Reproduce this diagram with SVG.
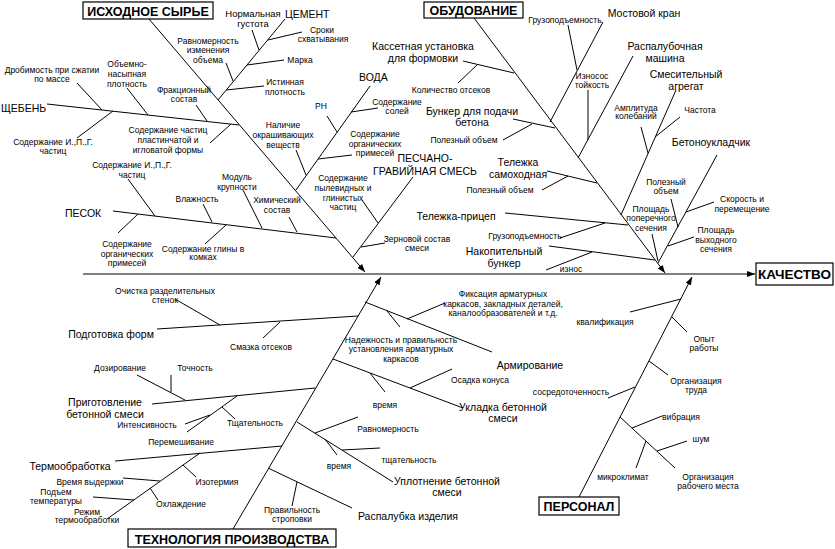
<svg xmlns="http://www.w3.org/2000/svg" width="835" height="549" viewBox="0 0 835 549">
<defs>
<style>
text{font-family:"Liberation Sans",Arial,sans-serif;fill:#000;text-anchor:middle}
.s{font-size:8.5px}
.m{font-size:10.5px}
.t{font-size:12.5px;font-weight:bold}
.st{text-anchor:start}
.box{fill:#fff;stroke:#000;stroke-width:1.2}
#connectors line{stroke:#000;stroke-width:1;fill:none}
</style>
<marker id="ah" markerWidth="8" markerHeight="6" refX="8" refY="3" orient="auto" markerUnits="userSpaceOnUse">
<path d="M0,0 L8,3 L0,6 Z" fill="#000"/>
</marker>
</defs>
<rect width="835" height="549" fill="#fff"/>
<g id="connectors">
<line x1="83" y1="274" x2="755" y2="274" marker-end="url(#ah)"/>
<line x1="149" y1="19" x2="365" y2="272" marker-end="url(#ah)"/>
<line x1="474" y1="18" x2="665" y2="273" marker-end="url(#ah)"/>
<line x1="233" y1="529" x2="381" y2="277" marker-end="url(#ah)"/>
<line x1="579" y1="497" x2="692" y2="277" marker-end="url(#ah)"/>
<line x1="285" y1="19" x2="218" y2="100"/>
<line x1="252" y1="30" x2="259" y2="50"/>
<line x1="302" y1="32" x2="268" y2="40"/>
<line x1="284" y1="60" x2="247" y2="65"/>
<line x1="264" y1="86" x2="226" y2="90"/>
<line x1="226" y1="63" x2="233" y2="81"/>
<line x1="47" y1="104" x2="239" y2="125"/>
<line x1="77" y1="83" x2="102" y2="110"/>
<line x1="127" y1="88" x2="148" y2="115"/>
<line x1="196" y1="105" x2="207" y2="121"/>
<line x1="210" y1="143" x2="231" y2="124"/>
<line x1="77" y1="138" x2="113" y2="111"/>
<line x1="370" y1="86" x2="296" y2="190"/>
<line x1="327" y1="116" x2="337" y2="132"/>
<line x1="378" y1="108" x2="351" y2="112"/>
<line x1="352" y1="155" x2="318" y2="159"/>
<line x1="296" y1="150" x2="306" y2="175"/>
<line x1="413" y1="177" x2="353" y2="257"/>
<line x1="362" y1="200" x2="378" y2="223"/>
<line x1="385" y1="243" x2="361" y2="247"/>
<line x1="113" y1="211" x2="336" y2="238"/>
<line x1="128" y1="179" x2="155" y2="216"/>
<line x1="203" y1="204" x2="212" y2="222"/>
<line x1="243" y1="190" x2="262" y2="228"/>
<line x1="289" y1="217" x2="297" y2="232"/>
<line x1="118" y1="233" x2="138" y2="214"/>
<line x1="205" y1="244" x2="226" y2="225"/>
<line x1="463" y1="61" x2="514" y2="73"/>
<line x1="458" y1="83" x2="477" y2="65"/>
<line x1="513" y1="119" x2="555" y2="128"/>
<line x1="503" y1="140" x2="532" y2="124"/>
<line x1="547" y1="171" x2="597" y2="183"/>
<line x1="542" y1="190" x2="568" y2="176"/>
<line x1="505" y1="213" x2="628" y2="225"/>
<line x1="560" y1="238" x2="605" y2="223"/>
<line x1="549" y1="246" x2="655" y2="260"/>
<line x1="546" y1="270" x2="592" y2="252"/>
<line x1="603" y1="22" x2="550" y2="122"/>
<line x1="568" y1="25" x2="577" y2="70"/>
<line x1="588" y1="90" x2="588" y2="140"/>
<line x1="633" y1="56" x2="578" y2="158"/>
<line x1="676" y1="90" x2="621" y2="215"/>
<line x1="641" y1="127" x2="648" y2="153"/>
<line x1="680" y1="117" x2="655" y2="137"/>
<line x1="717" y1="155" x2="658" y2="263"/>
<line x1="671" y1="199" x2="678" y2="227"/>
<line x1="714" y1="202" x2="686" y2="212"/>
<line x1="694" y1="237" x2="668" y2="246"/>
<line x1="652" y1="234" x2="658" y2="261"/>
<line x1="157" y1="329" x2="358" y2="316"/>
<line x1="175" y1="299" x2="220" y2="325"/>
<line x1="263" y1="338" x2="280" y2="322"/>
<line x1="152" y1="404" x2="315" y2="388"/>
<line x1="137" y1="375" x2="185" y2="400"/>
<line x1="171" y1="375" x2="171" y2="392"/>
<line x1="237" y1="396" x2="187" y2="432"/>
<line x1="185" y1="424" x2="210" y2="415"/>
<line x1="222" y1="407" x2="235" y2="419"/>
<line x1="115" y1="461" x2="282" y2="446"/>
<line x1="107" y1="519" x2="200" y2="453"/>
<line x1="183" y1="465" x2="196" y2="477"/>
<line x1="123" y1="478" x2="160" y2="481"/>
<line x1="150" y1="488" x2="158" y2="500"/>
<line x1="93" y1="497" x2="134" y2="500"/>
<line x1="352" y1="508" x2="268" y2="468"/>
<line x1="292" y1="506" x2="297" y2="482"/>
<line x1="393" y1="482" x2="297" y2="422"/>
<line x1="315" y1="433" x2="358" y2="417"/>
<line x1="342" y1="450" x2="380" y2="448"/>
<line x1="325" y1="439" x2="337" y2="455"/>
<line x1="463" y1="408" x2="333" y2="359"/>
<line x1="410" y1="388" x2="452" y2="369"/>
<line x1="370" y1="373" x2="385" y2="392"/>
<line x1="492" y1="352" x2="365" y2="302"/>
<line x1="407" y1="319" x2="445" y2="303"/>
<line x1="387" y1="311" x2="400" y2="327"/>
<line x1="630" y1="312" x2="681" y2="299"/>
<line x1="672" y1="317" x2="687" y2="332"/>
<line x1="649" y1="361" x2="668" y2="375"/>
<line x1="608" y1="398" x2="635" y2="387"/>
<line x1="620" y1="417" x2="675" y2="468"/>
<line x1="632" y1="428" x2="662" y2="416"/>
<line x1="657" y1="451" x2="687" y2="441"/>
<line x1="636" y1="468" x2="646" y2="441"/>
</g>
<g id="n-quality"><rect class="box" x="756" y="263" width="77" height="22"/><text class="t" x="794.5" y="279" style="font-size:13.5px">КАЧЕСТВО</text></g>
<g id="n-raw"><rect class="box" x="83" y="2" width="130" height="17"/><text class="t" x="148" y="15.5">ИСХОДНОЕ СЫРЬЕ</text></g>
<g id="n-equip"><rect class="box" x="424" y="2" width="99" height="16"/><text class="t" x="473.5" y="15">ОБУДОВАНИЕ</text></g>
<g id="n-tech"><rect class="box" x="128" y="529" width="208" height="18"/><text class="t" x="232" y="543.5">ТЕХНОЛОГИЯ ПРОИЗВОДСТВА</text></g>
<g id="n-staff"><rect class="box" x="539" y="497" width="80" height="18"/><text class="t" x="579" y="511">ПЕРСОНАЛ</text></g>
<g id="n-cement"><text class="m st" x="285" y="18">ЦЕМЕНТ</text></g>
<g id="n-norm"><text class="s" x="253" y="17" style="font-size:9.5px">Нормальная</text><text class="s" x="253" y="26.5" style="font-size:9.5px">густота</text></g>
<g id="n-sroki"><text class="s" x="322" y="33">Сроки</text><text class="s" x="323" y="42">схватывания</text></g>
<g id="n-marka"><text class="s" x="300" y="63">Марка</text></g>
<g id="n-ist"><text class="s" x="285" y="85">Истинная</text><text class="s" x="285" y="94.5">плотность</text></g>
<g id="n-ravn"><text class="s" x="208" y="43.5">Равномерность</text><text class="s" x="208" y="53">изменения</text><text class="s" x="208" y="62.5">объема</text></g>
<g id="n-shcheben"><text class="m st" x="1" y="112">ЩЕБЕНЬ</text></g>
<g id="n-drob"><text class="s" x="52" y="73">Дробимость при сжатии</text><text class="s" x="52" y="82">по массе</text></g>
<g id="n-obem"><text class="s" x="127" y="67">Объемно-</text><text class="s" x="127" y="77">насыпная</text><text class="s" x="127" y="87">плотность</text></g>
<g id="n-frak"><text class="s" x="184" y="93">Фракционный</text><text class="s" x="184" y="102">состав</text></g>
<g id="n-plast"><text class="s" x="168" y="132.5">Содержание частиц</text><text class="s" x="168" y="142.5">пластинчатой и</text><text class="s" x="168" y="152.5">игловатой формы</text></g>
<g id="n-ipg1"><text class="s" x="53" y="145">Содержание И.,П.,Г.</text><text class="s" x="53" y="154">частиц</text></g>
<g id="n-voda"><text class="m st" x="359" y="81">ВОДА</text></g>
<g id="n-ph"><text class="s" x="321" y="109">РН</text></g>
<g id="n-soli"><text class="s" x="397" y="105">Содержание</text><text class="s" x="397" y="114">солей</text></g>
<g id="n-org1"><text class="s" x="375" y="137">Содержание</text><text class="s" x="375" y="146.5">органических</text><text class="s" x="375" y="156">примесей</text></g>
<g id="n-okr"><text class="s" x="283" y="128">Наличие</text><text class="s" x="283" y="138">окрашивающих</text><text class="s" x="283" y="148">веществ</text></g>
<g id="n-pgs"><text class="m" x="425" y="162">ПЕСЧАНО-</text><text class="m" x="425" y="174.5">ГРАВИЙНАЯ СМЕСЬ</text></g>
<g id="n-pyl"><text class="s" x="343" y="181">Содержание</text><text class="s" x="343" y="191">пылевидных и</text><text class="s" x="343" y="200.5">глинистых</text><text class="s" x="343" y="210">частиц</text></g>
<g id="n-zern"><text class="s" x="417" y="242">Зерновой состав</text><text class="s" x="417" y="251">смеси</text></g>
<g id="n-pesok"><text class="m st" x="65" y="217">ПЕСОК</text></g>
<g id="n-ipg2"><text class="s" x="132" y="168">Содержание И.,П.,Г.</text><text class="s" x="132" y="177.5">частиц</text></g>
<g id="n-vlazh"><text class="s" x="197" y="202">Влажность</text></g>
<g id="n-modul"><text class="s" x="237" y="180">Модуль</text><text class="s" x="237" y="189.5">крупности</text></g>
<g id="n-him"><text class="s" x="277" y="203">Химический</text><text class="s" x="277" y="213">состав</text></g>
<g id="n-org2"><text class="s" x="127" y="247">Содержание</text><text class="s" x="127" y="256.5">органических</text><text class="s" x="127" y="266">примесей</text></g>
<g id="n-glina"><text class="s" x="203" y="251.5">Содержание глины в</text><text class="s" x="203" y="260">комках</text></g>
<g id="n-kasset"><text class="m" x="423" y="50">Кассетная установка</text><text class="m" x="423" y="62">для формовки</text></g>
<g id="n-kolvo"><text class="s" x="451" y="93">Количество отсеков</text></g>
<g id="n-bunker"><text class="m" x="472" y="115">Бункер для подачи</text><text class="m" x="472" y="126">бетона</text></g>
<g id="n-pol1"><text class="s" x="464" y="143">Полезный объем</text></g>
<g id="n-telezh"><text class="m" x="518" y="166">Тележка</text><text class="m" x="518" y="178">самоходная</text></g>
<g id="n-pol2"><text class="s" x="500" y="193">Полезный объем</text></g>
<g id="n-pricep"><text class="m" x="456" y="220">Тележка-прицеп</text></g>
<g id="n-gruz2"><text class="s" x="525" y="238.5">Грузоподъемность</text></g>
<g id="n-nakop"><text class="m" x="504" y="255">Накопительный</text><text class="m" x="504" y="267">бункер</text></g>
<g id="n-iznos"><text class="s" x="571" y="272">износ</text></g>
<g id="n-kran"><text class="m" x="644" y="17">Мостовой кран</text></g>
<g id="n-gruz1"><text class="s" x="565" y="23">Грузоподъемность</text></g>
<g id="n-iznosost"><text class="s" x="592" y="79">Износос</text><text class="s" x="592" y="88">тойкость</text></g>
<g id="n-raspal"><text class="m" x="665" y="50">Распалубочная</text><text class="m" x="665" y="62">машина</text></g>
<g id="n-smes"><text class="m" x="686" y="78">Смесительный</text><text class="m" x="686" y="90">агрегат</text></g>
<g id="n-ampl"><text class="s" x="636" y="110.5">Амплитуда</text><text class="s" x="636" y="119">колебаний</text></g>
<g id="n-chast"><text class="s" x="700" y="113">Частота</text></g>
<g id="n-beton"><text class="m" x="711" y="145.5">Бетоноукладчик</text></g>
<g id="n-pol3"><text class="s" x="666" y="185">Полезный</text><text class="s" x="666" y="193.5">объем</text></g>
<g id="n-skor"><text class="s" x="742" y="202">Скорость и</text><text class="s" x="742" y="211.5">перемещение</text></g>
<g id="n-vyh"><text class="s" x="716" y="233">Площадь</text><text class="s" x="716" y="242.5">выходного</text><text class="s" x="716" y="252">сечения</text></g>
<g id="n-poper"><text class="s" x="651" y="211.5">Площадь</text><text class="s" x="651" y="221">поперечного</text><text class="s" x="651" y="231">сечения</text></g>
<g id="n-podg"><text class="m" x="111" y="338">Подготовка форм</text></g>
<g id="n-ochist"><text class="s" x="165" y="294">Очистка разделительных</text><text class="s" x="165" y="303">стенок</text></g>
<g id="n-smazka"><text class="s" x="261" y="349.5">Смазка отсеков</text></g>
<g id="n-prig"><text class="m" x="105" y="406">Приготовление</text><text class="m" x="105" y="418">бетонной смеси</text></g>
<g id="n-doz"><text class="s" x="120" y="370.5">Дозирование</text></g>
<g id="n-toch"><text class="s" x="195" y="370.5">Точность</text></g>
<g id="n-int"><text class="s" x="147" y="428">Интенсивность</text></g>
<g id="n-tshch1"><text class="s" x="255" y="426">Тщательность</text></g>
<g id="n-perem"><text class="s" x="181" y="445">Перемешивание</text></g>
<g id="n-termo"><text class="m" x="70" y="470">Термообработка</text></g>
<g id="n-vyder"><text class="s" x="90" y="484.5">Время выдержки</text></g>
<g id="n-izoterm"><text class="s" x="217" y="484.5">Изотермия</text></g>
<g id="n-podem"><text class="s" x="56" y="494.5">Подъем</text><text class="s" x="56" y="504">температуры</text></g>
<g id="n-ohl"><text class="s" x="181" y="507">Охлаждение</text></g>
<g id="n-rezhim"><text class="s" x="87" y="514.5">Режим</text><text class="s" x="87" y="523">термообработки</text></g>
<g id="n-raspalub"><text class="m" x="408" y="520">Распалубка изделия</text></g>
<g id="n-strop"><text class="s" x="292" y="513">Правильность</text><text class="s" x="292" y="522">строповки</text></g>
<g id="n-uplot"><text class="m" x="447" y="485">Уплотнение бетонной</text><text class="m" x="447" y="496">смеси</text></g>
<g id="n-ravn2"><text class="s" x="388" y="432">Равномерность</text></g>
<g id="n-tshch2"><text class="s" x="409" y="463">тщательность</text></g>
<g id="n-vremya2"><text class="s" x="339" y="469">время</text></g>
<g id="n-uklad"><text class="m" x="503" y="411">Укладка бетонной</text><text class="m" x="503" y="422">смеси</text></g>
<g id="n-osadka"><text class="s" x="480" y="383">Осадка конуса</text></g>
<g id="n-vremya1"><text class="s" x="385" y="408">время</text></g>
<g id="n-armir"><text class="m" x="530" y="369">Армирование</text></g>
<g id="n-fiks"><text class="s" x="503" y="297">Фиксация арматурных</text><text class="s" x="503" y="306.5">каркасов, закладных деталей,</text><text class="s" x="503" y="316">каналообразователей и т.д.</text></g>
<g id="n-nadezh"><text class="s" x="401" y="342.5">Надежность и правильность</text><text class="s" x="401" y="352">установления арматурных</text><text class="s" x="401" y="361.5">каркасов</text></g>
<g id="n-kval"><text class="s" x="605" y="325">квалификация</text></g>
<g id="n-opyt"><text class="s" x="704" y="341.5">Опыт</text><text class="s" x="704" y="351">работы</text></g>
<g id="n-orgtr"><text class="s" x="696" y="383.5">Организация</text><text class="s" x="696" y="393">труда</text></g>
<g id="n-sosr"><text class="s" x="571" y="395">сосредоточенность</text></g>
<g id="n-vibr"><text class="s" x="681" y="420">вибрация</text></g>
<g id="n-shum"><text class="s" x="701" y="442">шум</text></g>
<g id="n-mikro"><text class="s" x="623" y="480">микроклимат</text></g>
<g id="n-orgrab"><text class="s" x="708" y="480">Организация</text><text class="s" x="708" y="489">рабочего места</text></g>
</svg>
